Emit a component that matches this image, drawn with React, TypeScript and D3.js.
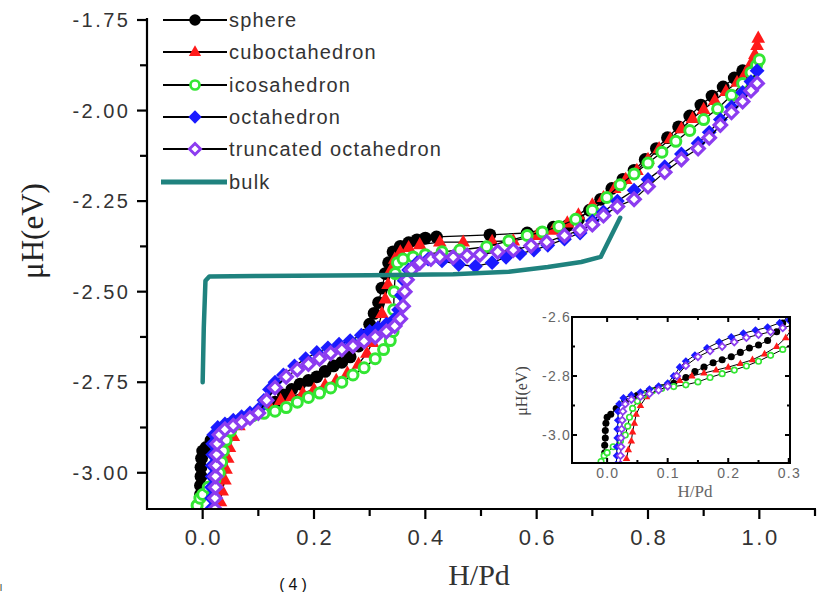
import React from 'react';
import * as d3 from 'd3';

type P = [number, number];

const sphere: P[] = [
  [-0.004,-3.06],[-0.004,-3.035],[-0.003,-3.01],[-0.003,-2.985],[-0.002,-2.96],[0.0,-2.94],[0.006,-2.93],
  [0.015,-2.91],[0.03,-2.885],[0.05,-2.865],[0.07,-2.85],[0.09,-2.84],[0.11,-2.825],[0.13,-2.805],
  [0.145,-2.785],[0.16,-2.77],[0.175,-2.755],[0.19,-2.745],[0.205,-2.735],[0.22,-2.72],[0.235,-2.705],
  [0.25,-2.695],[0.265,-2.68],[0.28,-2.65],[0.29,-2.62],[0.3,-2.59],[0.308,-2.56],[0.316,-2.53],
  [0.322,-2.49],[0.328,-2.45],[0.334,-2.42],[0.342,-2.39],[0.355,-2.375],[0.37,-2.365],[0.385,-2.357],
  [0.4,-2.352],[0.42,-2.349],[0.516,-2.343],[0.583,-2.338],[0.63,-2.322],[0.655,-2.318],[0.675,-2.3],
  [0.695,-2.275],[0.715,-2.245],[0.735,-2.215],[0.755,-2.19],[0.775,-2.165],[0.795,-2.135],[0.815,-2.105],
  [0.835,-2.075],[0.855,-2.045],[0.875,-2.015],[0.895,-1.985],[0.915,-1.96],[0.935,-1.935],[0.955,-1.91],
  [0.97,-1.89]
];

const cuboctahedron: P[] = [
  [0.032,-3.08],[0.035,-3.05],[0.04,-3.02],[0.042,-2.99],[0.045,-2.96],[0.048,-2.93],[0.055,-2.9],
  [0.065,-2.87],[0.08,-2.845],[0.1,-2.83],[0.12,-2.815],[0.14,-2.8],[0.16,-2.79],[0.18,-2.78],
  [0.2,-2.77],[0.22,-2.758],[0.24,-2.745],[0.26,-2.725],[0.28,-2.7],[0.295,-2.67],[0.305,-2.64],
  [0.315,-2.6],[0.322,-2.56],[0.328,-2.52],[0.333,-2.48],[0.338,-2.44],[0.345,-2.41],[0.355,-2.39],
  [0.37,-2.378],[0.39,-2.37],[0.426,-2.363],[0.468,-2.363],[0.52,-2.361],[0.558,-2.36],[0.6,-2.345],
  [0.63,-2.33],[0.655,-2.31],[0.675,-2.288],[0.7,-2.26],[0.72,-2.24],[0.74,-2.215],[0.76,-2.19],
  [0.78,-2.165],[0.8,-2.135],[0.82,-2.105],[0.84,-2.078],[0.86,-2.05],[0.88,-2.022],[0.9,-1.997],
  [0.92,-1.972],[0.94,-1.947],[0.96,-1.922],[0.975,-1.897],[0.985,-1.87],[0.992,-1.845],[0.996,-1.82],
  [0.998,-1.8]
];

const icosahedron: P[] = [
  [-0.01,-3.09],[-0.005,-3.07],[0.0,-3.06],[0.01,-3.04],[0.022,-3.02],[0.03,-3.0],[0.034,-2.97],
  [0.037,-2.94],[0.042,-2.91],[0.05,-2.885],[0.06,-2.865],[0.075,-2.85],[0.09,-2.842],[0.11,-2.836],
  [0.13,-2.83],[0.15,-2.82],[0.17,-2.805],[0.19,-2.792],[0.21,-2.78],[0.23,-2.766],[0.25,-2.75],
  [0.27,-2.73],[0.29,-2.71],[0.31,-2.685],[0.325,-2.66],[0.337,-2.635],[0.342,-2.61],[0.343,-2.55],
  [0.344,-2.5],[0.346,-2.45],[0.35,-2.42],[0.36,-2.41],[0.378,-2.404],[0.4,-2.398],[0.43,-2.39],
  [0.462,-2.385],[0.51,-2.376],[0.55,-2.36],[0.583,-2.345],[0.61,-2.335],[0.64,-2.32],[0.67,-2.3],
  [0.7,-2.275],[0.726,-2.24],[0.75,-2.205],[0.775,-2.175],[0.8,-2.145],[0.825,-2.115],[0.85,-2.085],
  [0.875,-2.055],[0.9,-2.025],[0.925,-1.995],[0.95,-1.958],[0.97,-1.925],[0.985,-1.895],[0.995,-1.875],
  [1.0,-1.86]
];

const octahedron: P[] = [
  [0.015,-3.1],[0.016,-3.07],[0.016,-3.04],[0.017,-3.01],[0.017,-2.98],[0.018,-2.95],[0.018,-2.92],
  [0.02,-2.895],[0.027,-2.875],[0.04,-2.865],[0.055,-2.855],[0.07,-2.845],[0.085,-2.835],[0.1,-2.825],
  [0.11,-2.8],[0.12,-2.77],[0.13,-2.75],[0.145,-2.73],[0.165,-2.705],[0.185,-2.685],[0.205,-2.668],
  [0.225,-2.655],[0.245,-2.645],[0.265,-2.635],[0.285,-2.62],[0.3,-2.61],[0.315,-2.6],[0.33,-2.59],
  [0.345,-2.575],[0.352,-2.55],[0.357,-2.51],[0.362,-2.47],[0.37,-2.44],[0.385,-2.42],[0.405,-2.41],
  [0.43,-2.415],[0.46,-2.425],[0.49,-2.43],[0.52,-2.42],[0.545,-2.405],[0.57,-2.395],[0.595,-2.385],
  [0.62,-2.372],[0.65,-2.355],[0.678,-2.338],[0.7,-2.305],[0.72,-2.28],[0.745,-2.25],[0.775,-2.22],
  [0.8,-2.19],[0.83,-2.155],[0.86,-2.12],[0.89,-2.09],[0.91,-2.06],[0.93,-2.025],[0.95,-1.99],
  [0.97,-1.95],[0.985,-1.92],[0.996,-1.89]
];

const truncatedOctahedron: P[] = [
  [0.022,-3.1],[0.022,-3.07],[0.023,-3.04],[0.023,-3.01],[0.024,-2.98],[0.025,-2.95],[0.026,-2.92],
  [0.03,-2.895],[0.04,-2.88],[0.055,-2.87],[0.07,-2.86],[0.085,-2.848],[0.1,-2.835],[0.115,-2.8],
  [0.13,-2.765],[0.15,-2.735],[0.17,-2.715],[0.19,-2.7],[0.21,-2.685],[0.23,-2.67],[0.25,-2.66],
  [0.27,-2.65],[0.29,-2.637],[0.31,-2.625],[0.33,-2.61],[0.345,-2.595],[0.355,-2.575],[0.36,-2.54],
  [0.363,-2.5],[0.367,-2.467],[0.375,-2.44],[0.39,-2.42],[0.41,-2.41],[0.426,-2.404],[0.45,-2.405],
  [0.475,-2.4],[0.498,-2.398],[0.53,-2.39],[0.558,-2.385],[0.59,-2.373],[0.618,-2.363],[0.65,-2.345],
  [0.678,-2.33],[0.7,-2.315],[0.72,-2.29],[0.745,-2.265],[0.775,-2.245],[0.8,-2.21],[0.83,-2.17],
  [0.86,-2.135],[0.89,-2.105],[0.91,-2.075],[0.93,-2.04],[0.95,-2.005],[0.97,-1.975],[0.985,-1.945],
  [0.996,-1.925]
];

const bulk: P[] = [
  [0.0,-2.75],[0.002,-2.6],[0.005,-2.47],[0.012,-2.458],[0.1,-2.457],[0.3,-2.455],[0.45,-2.452],
  [0.55,-2.445],[0.62,-2.432],[0.68,-2.418],[0.715,-2.404],[0.75,-2.296]
];

const seriesNames = ['sphere', 'cuboctahedron', 'icosahedron', 'octahedron', 'truncated octahedron'];
const seriesData = [sphere, cuboctahedron, icosahedron, octahedron, truncatedOctahedron];
const seriesColors = ['#000000', '#ff1a1a', '#33e633', '#1a1aff', '#8c3cf0'];
const bulkName = 'bulk';
const bulkColor = '#1f827e';

const xMajorTicks = [0.0, 0.2, 0.4, 0.6, 0.8, 1.0];
const xMinorTicks = [0.1, 0.3, 0.5, 0.7, 0.9, 1.1];
const yMajorTicks = [-1.75, -2.0, -2.25, -2.5, -2.75, -3.0];
const yMinorTicks = [-1.875, -2.125, -2.375, -2.625, -2.875];

const insetXMajor = [0.0, 0.1, 0.2, 0.3];
const insetXMinor = [0.05, 0.15, 0.25];
const insetYMajor = [-2.6, -2.8, -3.0];
const insetYMinor = [-2.7, -2.9];

const SANS = '"Liberation Sans", Arial, Helvetica, sans-serif';
const SERIF = '"Liberation Serif", "Times New Roman", serif';

function Marker({ kind, x, y, s, color }: { kind: number; x: number; y: number; s: number; color: string }) {
  if (kind === 0) return <circle cx={x} cy={y} r={6.4 * s} fill={color} />;
  if (kind === 1) {
    const r = 7.6 * s;
    const d = `M${x},${y - r} L${x + r * 0.9},${y + r * 0.6} L${x - r * 0.9},${y + r * 0.6}Z`;
    return <path d={d} fill={color} />;
  }
  if (kind === 2) return <circle cx={x} cy={y} r={5 * s} fill="#fff" stroke={color} strokeWidth={3 * s} />;
  if (kind === 3) {
    const r = 7.4 * s;
    return <path d={`M${x},${y - r} L${x + r},${y} L${x},${y + r} L${x - r},${y}Z`} fill={color} />;
  }
  const r = 6.2 * s;
  return <path d={`M${x},${y - r} L${x + r},${y} L${x},${y + r} L${x - r},${y}Z`} fill="#fff" stroke={color} strokeWidth={3.2 * s} />;
}

export default function App() {
  const W = 818, H = 592;
  const x = d3.scaleLinear().domain([-0.1, 1.1]).range([147, 815]);
  const y = d3.scaleLinear().domain([-3.1, -1.75]).range([509, 20]);
  const xi = d3.scaleLinear().domain([-0.058, 0.302]).range([572, 790]);
  const yi = d3.scaleLinear().domain([-3.095, -2.6]).range([463, 317]);

  const line = d3.line<P>().x(d => x(d[0])).y(d => y(d[1]));
  const lineI = d3.line<P>().x(d => xi(d[0])).y(d => yi(d[1]));

  const legendY = [20, 52, 85, 117, 149, 182];

  return (
    <svg width={W} height={H} style={{ position: 'absolute', left: 0, top: 0, background: '#fff' }}>
      <defs>
        <clipPath id="mainClip"><rect x={147} y={0} width={670} height={509} /></clipPath>
        <clipPath id="insetClip"><rect x={572} y={317} width={218} height={146} /></clipPath>
      </defs>
      <rect x={0} y={0} width={W} height={H} fill="#fff" />

      <g clipPath="url(#mainClip)">
        {seriesData.map((data, i) => (
          <g key={i}>
            <path d={line(data) || ''} fill="none" stroke="#000" strokeWidth={1.3} />
            {data.map((p, j) => (
              <Marker key={j} kind={i} x={x(p[0])} y={y(p[1])} s={1} color={seriesColors[i]} />
            ))}
          </g>
        ))}
        <path d={line(bulk) || ''} fill="none" stroke={bulkColor} strokeWidth={4.5} strokeLinejoin="round" strokeLinecap="round" />
      </g>

      <g stroke="#000" strokeWidth={2.2}>
        <line x1={147} y1={18} x2={147} y2={510} />
        <line x1={146} y1={509} x2={816} y2={509} />
        {yMajorTicks.map(t => <line key={t} x1={137} x2={147} y1={y(t)} y2={y(t)} />)}
        {yMinorTicks.map(t => <line key={t} x1={140} x2={147} y1={y(t)} y2={y(t)} />)}
        {xMajorTicks.map(t => <line key={t} x1={x(t)} x2={x(t)} y1={509} y2={519} />)}
        {xMinorTicks.map(t => <line key={t} x1={x(t)} x2={x(t)} y1={509} y2={516} />)}
      </g>
      <g fontFamily={SANS} fontSize={20} fill="#333" letterSpacing={2.5}>
        {yMajorTicks.map(t => (
          <text key={t} x={130.5} y={y(t) + 7} textAnchor="end">{t.toFixed(2)}</text>
        ))}
      </g>
      <g fontFamily={SANS} fontSize={22} fill="#333" letterSpacing={2.5}>
        {xMajorTicks.map(t => (
          <text key={t} x={x(t) + 1.25} y={545} textAnchor="middle">{t.toFixed(1)}</text>
        ))}
      </g>
      <text x={479} y={585} textAnchor="middle" fontFamily={SERIF} fontSize={30} fill="#333">H/Pd</text>
      <text transform="translate(43,231) rotate(-90)" textAnchor="middle" fontFamily={SERIF} fontSize={31} fill="#222">μH(eV)</text>

      <g>
        {seriesNames.map((n, i) => (
          <g key={n}>
            <line x1={163} x2={227} y1={legendY[i]} y2={legendY[i]} stroke="#000" strokeWidth={2} />
            <Marker kind={i} x={195} y={legendY[i]} s={0.9} color={seriesColors[i]} />
            <text x={229} y={legendY[i] + 7} fontFamily={SANS} fontSize={20} letterSpacing={1.2} fill="#333">{n}</text>
          </g>
        ))}
        <line x1={161} x2={227} y1={legendY[5]} y2={legendY[5]} stroke={bulkColor} strokeWidth={5} />
        <text x={229} y={legendY[5] + 7} fontFamily={SANS} fontSize={20} letterSpacing={1.2} fill="#333">{bulkName}</text>
      </g>

      <rect x={572} y={317} width={218} height={146} fill="#fff" />
      <g clipPath="url(#insetClip)">
        {seriesData.map((data, i) => {
          const sub = data.filter(p => p[0] <= 0.31);
          return (
            <g key={i}>
              <path d={lineI(sub) || ''} fill="none" stroke="#000" strokeWidth={1} />
              {sub.map((p, j) => (
                <Marker key={j} kind={i} x={xi(p[0])} y={yi(p[1])} s={0.55} color={seriesColors[i]} />
              ))}
            </g>
          );
        })}
      </g>
      <g stroke="#000" strokeWidth={2}>
        <rect x={572} y={317} width={218} height={146} fill="none" />
        {insetXMajor.map(t => (
          <g key={t}>
            <line x1={xi(t)} x2={xi(t)} y1={463} y2={458} />
            <line x1={xi(t)} x2={xi(t)} y1={317} y2={322} />
          </g>
        ))}
        {insetXMinor.map(t => (
          <g key={t}>
            <line x1={xi(t)} x2={xi(t)} y1={463} y2={460} />
            <line x1={xi(t)} x2={xi(t)} y1={317} y2={320} />
          </g>
        ))}
        {insetYMajor.map(t => (
          <g key={t}>
            <line x1={572} x2={577} y1={yi(t)} y2={yi(t)} />
            <line x1={790} x2={785} y1={yi(t)} y2={yi(t)} />
          </g>
        ))}
        {insetYMinor.map(t => (
          <g key={t}>
            <line x1={572} x2={575} y1={yi(t)} y2={yi(t)} />
            <line x1={790} x2={787} y1={yi(t)} y2={yi(t)} />
          </g>
        ))}
      </g>
      <g fontFamily={SANS} fontSize={14} fill="#666" letterSpacing={1.2}>
        {insetYMajor.map(t => (
          <text key={t} x={571} y={yi(t) + 5} textAnchor="end">{t.toFixed(1)}</text>
        ))}
        {insetXMajor.map(t => (
          <text key={t} x={xi(t) + 0.6} y={478} textAnchor="middle">{t.toFixed(1)}</text>
        ))}
      </g>
      <text x={695} y={497} textAnchor="middle" fontFamily={SERIF} fontSize={17} fill="#666">H/Pd</text>
      <text transform="translate(527,391) rotate(-90)" textAnchor="middle" fontFamily={SERIF} fontSize={16} fill="#444">μH(eV)</text>

      <text x={295} y={590} textAnchor="middle" fontFamily={SANS} fontSize={16} letterSpacing={4} fill="#111">(4)</text>
      <text x={0} y={591} fontFamily={SANS} fontSize={9} fill="#111">l</text>
    </svg>
  );
}
